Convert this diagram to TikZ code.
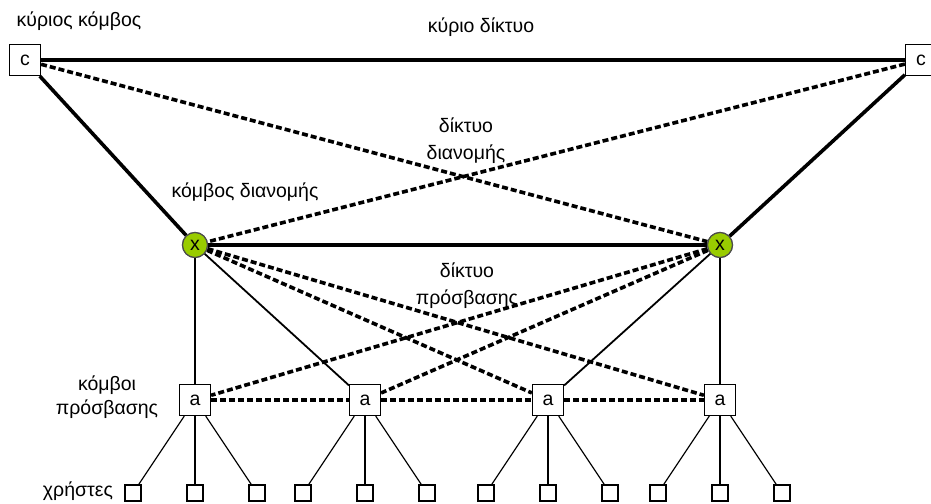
\documentclass[tikz,border=0pt]{standalone}
\usepackage{fontspec}
\setmainfont{Liberation Sans}
\definecolor{distgreen}{HTML}{99CC00}
\begin{document}
\begin{tikzpicture}[x=1pt,y=-1pt,
  every node/.style={font=\fontsize{19.5}{27}\selectfont},
  core/.style={draw,line width=1.2pt,minimum size=31pt,inner sep=0pt,fill=white},
  dist/.style={circle,draw=black!70,line width=1.2pt,fill=distgreen,minimum size=25pt,inner sep=0pt},
  acc/.style={draw,line width=1.2pt,minimum size=31pt,inner sep=0pt,fill=white},
  usr/.style={draw,line width=1.2pt,minimum size=16pt,inner sep=0pt,fill=white},
  label/.style={align=center,inner sep=0pt},
  thicklink/.style={line width=3.6pt},
  dashlink/.style={line width=3.6pt,dash pattern=on 6pt off 3pt},
  thinlink/.style={line width=1.8pt},
  userlink/.style={line width=1.2pt}]
\useasboundingbox (0,0) rectangle (931,503);

% nodes
\node[core] (c1) at (25,60) {c};
\node[core] (c2) at (921,60) {c};
\node[dist] (x1) at (195,245) {x};
\node[dist] (x2) at (720,245) {x};
\foreach \i/\xx in {1/195,2/365,3/548,4/720}{
  \node[acc] (a\i) at (\xx,400) {a};
  \node[usr] (u\i l) at (\xx-62,493) {};
  \node[usr] (u\i m) at (\xx,493) {};
  \node[usr] (u\i r) at (\xx+62,493) {};
}

% core and distribution network
\draw[thicklink] (c1) -- (c2);
\draw[thicklink] (c1) -- (x1);
\draw[thicklink] (c2) -- (x2);
\draw[dashlink] (c1) -- (x2);
\draw[dashlink] (c2) -- (x1);
\draw[thicklink] (x1) -- (x2);

% access network
\draw[thinlink] (x1) -- (a1);
\draw[thinlink] (x1) -- (a2);
\draw[thinlink] (x2) -- (a3);
\draw[thinlink] (x2) -- (a4);
\draw[dashlink] (x1) -- (a3);
\draw[dashlink] (x1) -- (a4);
\draw[dashlink] (x2) -- (a1);
\draw[dashlink] (x2) -- (a2);
\draw[dashlink] (a1) -- (a2);
\draw[dashlink] (a2) -- (a3);
\draw[dashlink] (a3) -- (a4);

% users
\foreach \i in {1,2,3,4}{
  \foreach \s in {l,m,r}{
    \draw[userlink] (a\i) -- (u\i\s);
  }
}

% nodes again, above the links
\node[core] at (c1) {c};
\node[core] at (c2) {c};
\node[dist] at (x1) {x};
\node[dist] at (x2) {x};
\foreach \i in {1,2,3,4}{ \node[acc] at (a\i) {a}; }

% labels
\node[label] (lcore) at (79,21) {κύριος κόμβος};
\node[label] (lcorenet) at (481,27) {κύριο δίκτυο};
\node[label] (ldistnet) at (466,141) {δίκτυο\\διανομής};
\node[label] (ldist) at (245,192) {κόμβος διανομής};
\node[label] (laccnet) at (467,286) {δίκτυο\\πρόσβασης};
\node[label,font=\fontsize{19.5}{24}\selectfont] (lacc) at (107,397) {κόμβοι\\πρόσβασης};
\node[label] (lusr) at (78,491) {χρήστες};
\end{tikzpicture}
\end{document}
